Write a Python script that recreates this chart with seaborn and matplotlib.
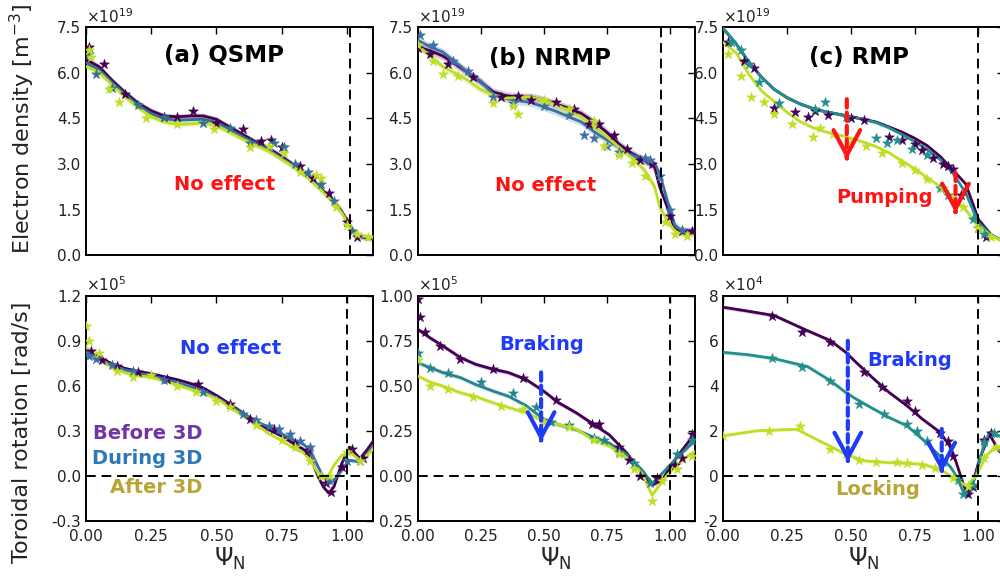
import numpy as np
import matplotlib
matplotlib.use("Agg")
import matplotlib.pyplot as plt
import seaborn as sns
from matplotlib.ticker import FixedLocator, FixedFormatter

# ---------------- data ----------------
# Electron density (x1e19 m^-3)
ne_a_psi = [0, 0.05, 0.1, 0.15, 0.2, 0.25, 0.3, 0.35, 0.4, 0.45, 0.5, 0.55, 0.6, 0.65, 0.7, 0.75, 0.8, 0.85, 0.9, 0.95, 0.98, 1.0, 1.02, 1.05, 1.1]
ne_a_before = [6.43, 6.2, 5.75, 5.35, 5.0, 4.75, 4.58, 4.55, 4.58, 4.58, 4.47, 4.22, 3.98, 3.73, 3.52, 3.25, 2.95, 2.6, 2.2, 1.78, 1.45, 1.15, 0.85, 0.62, 0.55]
ne_a_during = [6.32, 6.1, 5.68, 5.28, 4.93, 4.66, 4.49, 4.44, 4.46, 4.47, 4.37, 4.14, 3.9, 3.68, 3.47, 3.2, 2.92, 2.58, 2.18, 1.75, 1.42, 1.12, 0.85, 0.64, 0.57]
ne_a_after = [6.2, 6.02, 5.6, 5.2, 4.85, 4.55, 4.38, 4.3, 4.32, 4.35, 4.25, 4.05, 3.82, 3.62, 3.42, 3.15, 2.88, 2.55, 2.15, 1.72, 1.4, 1.1, 0.86, 0.65, 0.6]
ne_a_pts_before_psi = [0.01, 0.07, 0.15, 0.3, 0.35, 0.41, 0.5, 0.6, 0.67, 0.71, 0.75, 0.82, 0.87, 0.93, 1.0, 1.04]
ne_a_pts_before = [6.85, 6.3, 5.3, 4.55, 4.55, 4.75, 4.35, 4.15, 3.75, 3.8, 3.55, 2.95, 2.55, 2.05, 1.1, 0.6]
ne_a_pts_during_psi = [0.01, 0.04, 0.1, 0.2, 0.3, 0.45, 0.55, 0.63, 0.72, 0.76, 0.8, 0.85, 0.9, 0.95, 1.02]
ne_a_pts_during = [6.6, 5.95, 5.5, 4.95, 4.55, 4.35, 4.2, 3.7, 3.7, 3.55, 3.0, 2.75, 2.35, 1.8, 0.8]
ne_a_pts_after_psi = [0.01, 0.02, 0.09, 0.125, 0.23, 0.35, 0.49, 0.63, 0.7, 0.76, 0.82, 0.88, 0.9, 0.96, 1.0, 1.04, 1.08]
ne_a_pts_after = [6.75, 6.5, 5.45, 5.05, 4.5, 4.3, 4.15, 3.55, 3.6, 3.35, 2.75, 2.65, 2.55, 1.6, 1.0, 0.7, 0.6]

ne_b_psi = [0, 0.05, 0.1, 0.15, 0.2, 0.25, 0.3, 0.35, 0.4, 0.45, 0.5, 0.55, 0.6, 0.65, 0.7, 0.75, 0.8, 0.85, 0.9, 0.94, 0.96, 0.99, 1.02, 1.05, 1.1]
ne_b_before = [6.85, 6.72, 6.55, 6.28, 6.0, 5.7, 5.37, 5.25, 5.2, 5.2, 5.1, 4.97, 4.83, 4.66, 4.38, 4.05, 3.65, 3.35, 3.12, 2.9, 2.25, 1.59, 0.85, 0.8, 0.8]
ne_b_during = [7.07, 6.85, 6.68, 6.35, 6.0, 5.72, 5.3, 5.15, 5.08, 5.02, 4.88, 4.73, 4.55, 4.38, 4.06, 3.8, 3.55, 3.3, 3.12, 3.02, 2.69, 1.81, 1.0, 0.78, 0.78]
ne_b_after = [6.9, 6.55, 6.2, 5.98, 5.75, 5.45, 5.26, 5.17, 5.18, 5.2, 5.1, 4.95, 4.75, 4.55, 4.22, 3.9, 3.55, 3.2, 2.8, 2.25, 1.6, 1.15, 0.8, 0.7, 0.72]
ne_b_pts_before_psi = [0.0, 0.05, 0.12, 0.22, 0.33, 0.4, 0.45, 0.55, 0.62, 0.68, 0.72, 0.78, 0.83, 0.88, 0.93, 1.0, 1.05, 1.09]
ne_b_pts_before = [6.8, 6.6, 6.3, 5.85, 5.2, 5.25, 5.1, 5.05, 4.8, 4.3, 4.3, 3.95, 3.5, 3.15, 3.0, 1.3, 0.8, 0.8]
ne_b_pts_during_psi = [0.01, 0.06, 0.14, 0.2, 0.3, 0.38, 0.5, 0.6, 0.66, 0.7, 0.75, 0.8, 0.9, 0.92, 0.96, 1.0, 1.05]
ne_b_pts_during = [7.25, 6.9, 6.4, 6.05, 5.2, 5.0, 4.9, 4.6, 3.95, 3.85, 3.6, 3.4, 3.2, 3.15, 2.6, 1.5, 0.85]
ne_b_pts_after_psi = [0.0, 0.06, 0.1, 0.16, 0.3, 0.38, 0.4, 0.5, 0.6, 0.7, 0.74, 0.8, 0.85, 0.9, 0.98, 1.02, 1.07]
ne_b_pts_after = [6.9, 6.4, 5.95, 5.9, 5.0, 4.9, 4.65, 5.1, 4.8, 4.4, 3.6, 3.3, 3.05, 2.6, 1.1, 0.7, 0.65]

ne_c_psi = [0, 0.05, 0.1, 0.15, 0.2, 0.25, 0.3, 0.35, 0.4, 0.45, 0.5, 0.55, 0.6, 0.65, 0.7, 0.75, 0.8, 0.85, 0.9, 0.95, 1.0, 1.05, 1.1]
ne_c_before = [7.45, 6.95, 6.35, 5.85, 5.45, 5.18, 4.98, 4.83, 4.72, 4.64, 4.56, 4.47, 4.38, 4.22, 4.05, 3.85, 3.6, 3.25, 2.8, 2.35, 1.18, 0.68, 0.45]
ne_c_during = [7.45, 6.95, 6.35, 5.85, 5.45, 5.18, 4.98, 4.83, 4.72, 4.64, 4.56, 4.47, 4.36, 4.19, 3.97, 3.74, 3.47, 3.15, 2.7, 2.05, 1.07, 0.68, 0.45]
ne_c_after = [7.0, 6.65, 5.95, 5.4, 5.05, 4.7, 4.4, 4.2, 4.06, 3.97, 3.85, 3.72, 3.57, 3.37, 3.1, 2.85, 2.55, 2.26, 1.88, 1.5, 0.94, 0.65, 0.45]
ne_c_pts_before_psi = [0.02, 0.08, 0.12, 0.2, 0.28, 0.33, 0.36, 0.41, 0.5, 0.55, 0.65, 0.7, 0.75, 0.78, 0.82, 0.86, 0.88, 0.9, 0.93, 1.0, 1.03]
ne_c_pts_before = [7.0, 6.4, 6.15, 4.85, 4.7, 4.55, 4.75, 4.6, 4.5, 4.45, 3.9, 3.8, 3.65, 3.45, 3.2, 3.0, 2.95, 2.85, 2.0, 0.9, 0.6]
ne_c_pts_during_psi = [0.03, 0.07, 0.1, 0.14, 0.22, 0.36, 0.4, 0.48, 0.6, 0.64, 0.68, 0.74, 0.8, 0.85, 0.88, 0.98, 1.02]
ne_c_pts_during = [7.0, 6.75, 6.3, 5.7, 5.0, 4.8, 5.05, 4.55, 3.85, 3.7, 3.8, 3.5, 3.3, 2.2, 2.0, 1.2, 0.7]
ne_c_pts_after_psi = [0.02, 0.07, 0.11, 0.16, 0.2, 0.27, 0.35, 0.38, 0.43, 0.5, 0.56, 0.62, 0.7, 0.75, 0.8, 0.86, 0.9, 0.94, 1.0, 1.05]
ne_c_pts_after = [6.6, 5.9, 5.2, 5.05, 4.65, 4.3, 3.9, 4.2, 4.0, 3.7, 3.6, 3.35, 3.05, 2.8, 2.5, 2.2, 1.9, 1.6, 0.9, 0.6]

# Toroidal rotation
rot_a_psi = [0, 0.05, 0.1, 0.15, 0.2, 0.25, 0.3, 0.35, 0.4, 0.45, 0.5, 0.55, 0.6, 0.65, 0.7, 0.75, 0.8, 0.83, 0.86, 0.89, 0.91, 0.93, 0.95, 0.98, 1.01, 1.05, 1.08, 1.1]
rot_a_before = [0.835, 0.79, 0.745, 0.715, 0.695, 0.68, 0.66, 0.64, 0.615, 0.585, 0.535, 0.48, 0.42, 0.36, 0.308, 0.265, 0.21, 0.181, 0.126, -0.007, -0.074, -0.114, -0.074, 0.082, 0.192, 0.115, 0.18, 0.23]
rot_a_during = [0.823, 0.78, 0.735, 0.705, 0.685, 0.665, 0.645, 0.62, 0.595, 0.565, 0.52, 0.47, 0.415, 0.365, 0.325, 0.28, 0.235, 0.215, 0.17, 0.059, -0.007, -0.05, -0.03, 0.037, 0.104, 0.093, 0.15, 0.2]
rot_a_after = [0.857, 0.775, 0.72, 0.685, 0.665, 0.657, 0.63, 0.605, 0.575, 0.55, 0.513, 0.46, 0.4, 0.345, 0.281, 0.235, 0.18, 0.159, 0.104, 0.015, -0.018, 0.004, 0.07, 0.137, 0.159, 0.104, 0.14, 0.18]
rot_a_pts_before_psi = [0.02, 0.06, 0.12, 0.2, 0.31, 0.43, 0.55, 0.63, 0.72, 0.8, 0.85, 0.92, 0.94, 0.98, 1.02, 1.06]
rot_a_pts_before = [0.83, 0.77, 0.73, 0.69, 0.645, 0.61, 0.48, 0.38, 0.31, 0.22, 0.17, -0.05, -0.11, 0.06, 0.18, 0.12]
rot_a_pts_during_psi = [0.01, 0.04, 0.1, 0.18, 0.3, 0.45, 0.6, 0.65, 0.7, 0.74, 0.78, 0.82, 0.86, 0.93, 1.0, 1.05]
rot_a_pts_during = [0.8, 0.78, 0.74, 0.7, 0.64, 0.56, 0.41, 0.37, 0.33, 0.31, 0.28, 0.23, 0.19, -0.03, 0.1, 0.1]
rot_a_pts_after_psi = [0.0, 0.01, 0.05, 0.12, 0.18, 0.25, 0.35, 0.42, 0.5, 0.55, 0.65, 0.75, 0.8, 0.86, 0.9, 0.93, 1.0, 1.05]
rot_a_pts_after = [1.0, 0.9, 0.82, 0.7, 0.66, 0.67, 0.6, 0.56, 0.5, 0.46, 0.34, 0.24, 0.19, 0.1, 0.0, 0.0, 0.16, 0.1]

rot_b_psi = [0, 0.05, 0.1, 0.17, 0.23, 0.3, 0.36, 0.43, 0.5, 0.56, 0.63, 0.69, 0.76, 0.83, 0.89, 0.93, 0.97, 1.02, 1.08, 1.1]
rot_b_before = [0.814, 0.765, 0.721, 0.656, 0.619, 0.591, 0.573, 0.535, 0.47, 0.405, 0.349, 0.293, 0.228, 0.126, 0.014, -0.05, -0.023, 0.089, 0.2, 0.23]
rot_b_during = [0.628, 0.6, 0.573, 0.545, 0.507, 0.47, 0.442, 0.39, 0.315, 0.284, 0.256, 0.219, 0.182, 0.117, 0.033, -0.041, 0.014, 0.089, 0.17, 0.19]
rot_b_after = [0.554, 0.52, 0.498, 0.461, 0.44, 0.405, 0.38, 0.35, 0.305, 0.285, 0.26, 0.205, 0.165, 0.1, 0.014, -0.107, -0.03, 0.051, 0.12, 0.135]
rot_b_pts_before_psi = [0.0, 0.01, 0.03, 0.09, 0.17, 0.3, 0.42, 0.55, 0.69, 0.72, 0.8, 0.84, 0.88, 0.95, 1.02, 1.05, 1.09]
rot_b_pts_before = [0.98, 0.88, 0.8, 0.72, 0.65, 0.59, 0.54, 0.42, 0.29, 0.29, 0.16, 0.09, 0.0, -0.01, 0.06, 0.1, 0.23]
rot_b_pts_during_psi = [0.0, 0.05, 0.12, 0.25, 0.38, 0.47, 0.53, 0.6, 0.7, 0.74, 0.8, 0.86, 0.92, 1.03, 1.09]
rot_b_pts_during = [0.68, 0.6, 0.57, 0.52, 0.46, 0.38, 0.3, 0.28, 0.21, 0.2, 0.13, 0.07, -0.04, 0.12, 0.2]
rot_b_pts_after_psi = [0.0, 0.05, 0.12, 0.22, 0.33, 0.42, 0.5, 0.6, 0.7, 0.8, 0.86, 0.93, 0.97, 1.03, 1.09]
rot_b_pts_after = [0.64, 0.5, 0.48, 0.44, 0.39, 0.37, 0.3, 0.27, 0.2, 0.12, 0.04, -0.14, -0.03, 0.04, 0.11]

rot_c_before_psi = [0, 0.1, 0.2, 0.33, 0.42, 0.48, 0.52, 0.59, 0.65, 0.72, 0.78, 0.85, 0.887, 0.913, 0.939, 0.959, 0.978, 1.004, 1.043, 1.08, 1.1]
rot_c_before = [7.48, 7.3, 7.11, 6.44, 6.0, 5.48, 5.04, 4.3, 3.7, 3.11, 2.52, 1.93, 1.33, 0.59, -0.3, -0.89, -0.3, 0.74, 1.85, 1.1, 1.0]
rot_c_during_psi = [0, 0.1, 0.2, 0.33, 0.42, 0.48, 0.52, 0.59, 0.65, 0.72, 0.78, 0.848, 0.89, 0.913, 0.939, 0.965, 0.991, 1.017, 1.043, 1.08, 1.1]
rot_c_during = [5.48, 5.37, 5.2, 4.85, 4.22, 3.7, 3.41, 2.96, 2.59, 2.22, 1.63, 0.89, 0.4, 0.0, -0.67, -0.74, 0.07, 1.19, 1.93, 1.78, 1.7]
rot_c_after_psi = [0, 0.13, 0.196, 0.287, 0.39, 0.48, 0.55, 0.65, 0.78, 0.848, 0.913, 0.952, 0.991, 1.03, 1.07, 1.1]
rot_c_after = [1.78, 2.0, 2.03, 2.07, 1.48, 0.96, 0.67, 0.59, 0.52, 0.3, -0.15, -0.44, 0.0, 0.89, 1.33, 1.26]
rot_c_pts_before_psi = [0.19, 0.31, 0.42, 0.55, 0.62, 0.72, 0.75, 0.85, 0.88, 0.9, 0.96, 0.98, 1.02, 1.05]
rot_c_pts_before = [7.1, 6.4, 5.95, 4.6, 3.95, 3.3, 2.9, 1.9, 1.55, 0.9, -0.8, -0.5, 1.6, 1.9]
rot_c_pts_during_psi = [0.19, 0.31, 0.42, 0.53, 0.63, 0.72, 0.76, 0.8, 0.86, 0.92, 0.94, 0.98, 1.02, 1.06]
rot_c_pts_during = [5.25, 4.85, 4.2, 3.2, 2.75, 2.3, 2.0, 1.55, 0.6, -0.2, -0.8, -0.4, 1.5, 1.9]
rot_c_pts_after_psi = [0.0, 0.18, 0.3, 0.42, 0.48, 0.53, 0.6, 0.68, 0.72, 0.78, 0.83, 0.9, 0.96, 1.02, 1.07]
rot_c_pts_after = [1.75, 2.0, 2.2, 1.2, 0.95, 0.7, 0.6, 0.6, 0.55, 0.5, 0.35, -0.1, -0.45, 0.8, 1.3]

# axis ticks / labels
x_ticks = [0.0, 0.25, 0.5, 0.75, 1.0]
x_ticklabels = ["0.00", "0.25", "0.50", "0.75", "1.00"]
ne_ticks = [0.0, 1.5, 3.0, 4.5, 6.0, 7.5]
ne_ticklabels = ["0.0", "1.5", "3.0", "4.5", "6.0", "7.5"]
rot_a_ticks = [-0.3, 0.0, 0.3, 0.6, 0.9, 1.2]
rot_a_ticklabels = ["-0.3", "0.0", "0.3", "0.6", "0.9", "1.2"]
rot_b_ticks = [-0.25, 0.0, 0.25, 0.5, 0.75, 1.0]
rot_b_ticklabels = ["0.25", "0.00", "0.25", "0.50", "0.75", "1.00"]
rot_c_ticks = [-2, 0, 2, 4, 6, 8]
rot_c_ticklabels = ["-2", "0", "2", "4", "6", "8"]

# ---------------- style ----------------
sns.set_theme(style="white")
plt.rcParams.update({
    "font.family": ["DejaVu Sans"],
    "axes.unicode_minus": False,
    "axes.edgecolor": "black",
    "axes.linewidth": 1.4,
    "xtick.direction": "in",
    "ytick.direction": "in",
    "xtick.top": True,
    "ytick.right": True,
    "xtick.major.size": 5,
    "ytick.major.size": 5,
    "xtick.major.width": 1.0,
    "ytick.major.width": 1.0,
    "xtick.major.pad": 6,
    "xtick.labelsize": 11,
    "ytick.labelsize": 11,
    "xtick.color": "black",
    "ytick.color": "black",
    "xtick.labelcolor": "#222222",
    "ytick.labelcolor": "#222222",
})

C_BEFORE = "#440154"
C_AFTER = "#bfdf25"
C_RED = "#ff1414"
C_BLUE = "#1e3cf5"
C_OLIVE = "#b8a535"

fig = plt.figure(figsize=(10, 5.79), dpi=100)

top_b, top_h = 1 - 255.5 / 579, 228.5 / 579
bot_b, bot_h = 1 - 521 / 579, 225.5 / 579
cols = [(0.086, 0.287), (0.4175, 0.2775), (0.7233, 0.2807)]

axes_top = [fig.add_axes([l, top_b, w, top_h]) for l, w in cols]
axes_bot = [fig.add_axes([l, bot_b, w, bot_h]) for l, w in cols]


def draw(ax, psi, curve, ppsi, pval, color, band):
    c = np.asarray(curve, dtype=float)
    ax.fill_between(psi, c - band, c + band, color=color, alpha=0.22, lw=0, zorder=2)
    sns.lineplot(x=psi, y=curve, ax=ax, color=color, lw=2.0, zorder=3, sort=False)
    sns.scatterplot(x=ppsi, y=pval, ax=ax, marker="*", s=55, color=color,
                    edgecolor=color, linewidth=0.4, zorder=4, legend=False)


def arrow(ax, x, y0, y1, color, eps):
    ax.annotate("", xy=(x, y1 + eps), xytext=(x, y0),
                arrowprops=dict(arrowstyle="-", ls=(0, (2.0, 1.2)), lw=3, color=color,
                                shrinkA=0, shrinkB=0), zorder=6)
    ax.annotate("", xy=(x, y1), xytext=(x, y1 + eps),
                arrowprops=dict(arrowstyle="->,head_length=1.5,head_width=0.8", lw=3,
                                color=color, shrinkA=0, shrinkB=0), zorder=6)


# top row: density
ne_sets = [
    (ne_a_psi, ne_a_before, ne_a_during, ne_a_after,
     (ne_a_pts_before_psi, ne_a_pts_before), (ne_a_pts_during_psi, ne_a_pts_during),
     (ne_a_pts_after_psi, ne_a_pts_after), "#33718f", 0.09, 1.01),
    (ne_b_psi, ne_b_before, ne_b_during, ne_b_after,
     (ne_b_pts_before_psi, ne_b_pts_before), (ne_b_pts_during_psi, ne_b_pts_during),
     (ne_b_pts_after_psi, ne_b_pts_after), "#3d6fa3", 0.13, 0.967),
    (ne_c_psi, ne_c_before, ne_c_during, ne_c_after,
     (ne_c_pts_before_psi, ne_c_pts_before), (ne_c_pts_during_psi, ne_c_pts_during),
     (ne_c_pts_after_psi, ne_c_pts_after), "#21908d", 0.05, 1.0),
]
for ax, (psi, bf, du, af, pb, pd_, pa, cdur, band, sep) in zip(axes_top, ne_sets):
    draw(ax, psi, bf, pb[0], pb[1], C_BEFORE, band)
    draw(ax, psi, du, pd_[0], pd_[1], cdur, band)
    draw(ax, psi, af, pa[0], pa[1], C_AFTER, band)
    ax.axvline(sep, color="black", ls=(0, (5, 3)), lw=1.4, zorder=5)
    ax.set_xlim(0, 1.1)
    ax.set_ylim(0, 7.5)
    ax.xaxis.set_major_locator(FixedLocator(x_ticks))
    ax.set_xticklabels([])
    ax.yaxis.set_major_locator(FixedLocator(ne_ticks))
    ax.yaxis.set_major_formatter(FixedFormatter(ne_ticklabels))
    ax.set_xlabel("")
    ax.set_ylabel("")
    ax.text(0.0, 1.005, r"$\times10^{19}$", transform=ax.transAxes, ha="left", va="bottom",
            fontsize=11, color="#222222")

# bottom row: rotation
rot_sets = [
    ((rot_a_psi, rot_a_before), (rot_a_psi, rot_a_during), (rot_a_psi, rot_a_after),
     (rot_a_pts_before_psi, rot_a_pts_before), (rot_a_pts_during_psi, rot_a_pts_during),
     (rot_a_pts_after_psi, rot_a_pts_after), "#3a6ea6", 0.012,
     (-0.3, 1.2), rot_a_ticks, rot_a_ticklabels, r"$\times10^{5}$"),
    ((rot_b_psi, rot_b_before), (rot_b_psi, rot_b_during), (rot_b_psi, rot_b_after),
     (rot_b_pts_before_psi, rot_b_pts_before), (rot_b_pts_during_psi, rot_b_pts_during),
     (rot_b_pts_after_psi, rot_b_pts_after), "#25848e", 0.012,
     (-0.25, 1.0), rot_b_ticks, rot_b_ticklabels, r"$\times10^{5}$"),
    ((rot_c_before_psi, rot_c_before), (rot_c_during_psi, rot_c_during), (rot_c_after_psi, rot_c_after),
     (rot_c_pts_before_psi, rot_c_pts_before), (rot_c_pts_during_psi, rot_c_pts_during),
     (rot_c_pts_after_psi, rot_c_pts_after), "#21908d", 0.08,
     (-2, 8), rot_c_ticks, rot_c_ticklabels, r"$\times10^{4}$"),
]
for ax, (cb, cd, ca, pb, pd_, pa, cdur, band, ylim, yt, ytl, off) in zip(axes_bot, rot_sets):
    draw(ax, cb[0], cb[1], pb[0], pb[1], C_BEFORE, band)
    draw(ax, cd[0], cd[1], pd_[0], pd_[1], cdur, band)
    draw(ax, ca[0], ca[1], pa[0], pa[1], C_AFTER, band)
    ax.axvline(1.0, color="black", ls=(0, (5, 3)), lw=1.4, zorder=5)
    ax.axhline(0.0, color="black", ls=(0, (5, 3)), lw=1.4, zorder=5)
    ax.set_xlim(0, 1.1)
    ax.set_ylim(*ylim)
    ax.xaxis.set_major_locator(FixedLocator(x_ticks))
    ax.xaxis.set_major_formatter(FixedFormatter(x_ticklabels))
    ax.yaxis.set_major_locator(FixedLocator(yt))
    ax.yaxis.set_major_formatter(FixedFormatter(ytl))
    ax.set_ylabel("")
    ax.set_xlabel(r"$\Psi_{\rm N}$", fontsize=17, labelpad=1)
    ax.text(0.0, 1.005, off, transform=ax.transAxes, ha="left", va="bottom",
            fontsize=11, color="#222222")

# annotations
bold = dict(fontweight="bold", ha="center", va="center")
axes_top[0].text(0.53, 6.55, "(a) QSMP", fontsize=16.5, color="black", **bold)
axes_top[0].text(0.53, 2.33, "No effect", fontsize=14, color=C_RED, **bold)
axes_top[1].text(0.526, 6.46, "(b) NRMP", fontsize=16.5, color="black", **bold)
axes_top[1].text(0.506, 2.3, "No effect", fontsize=14, color=C_RED, **bold)
axes_top[2].text(0.53, 6.5, "(c) RMP", fontsize=16.5, color="black", **bold)
axes_top[2].text(0.63, 1.92, "Pumping", fontsize=14, color=C_RED, **bold)
arrow(axes_top[2], 0.484, 5.13, 3.15, C_RED, 0.05)
arrow(axes_top[2], 0.91, 2.72, 1.39, C_RED, 0.05)

axes_bot[0].text(0.556, 0.848, "No effect", fontsize=14, color=C_BLUE, **bold)
axes_bot[0].text(0.447, 0.283, "Before 3D", fontsize=14, color="#7434a4", fontweight="bold", ha="right", va="center")
axes_bot[0].text(0.447, 0.117, "During 3D", fontsize=14, color="#2f78b8", fontweight="bold", ha="right", va="center")
axes_bot[0].text(0.447, -0.076, "After 3D", fontsize=14, color=C_OLIVE, fontweight="bold", ha="right", va="center")

axes_bot[1].text(0.494, 0.73, "Braking", fontsize=14, color=C_BLUE, **bold)
arrow(axes_bot[1], 0.49, 0.574, 0.19, C_BLUE, 0.01)

axes_bot[2].text(0.73, 5.1, "Braking", fontsize=14, color=C_BLUE, **bold)
axes_bot[2].text(0.603, -0.6, "Locking", fontsize=14, color=C_OLIVE, **bold)
arrow(axes_bot[2], 0.488, 5.99, 0.61, C_BLUE, 0.08)
arrow(axes_bot[2], 0.856, 2.08, 0.17, C_BLUE, 0.08)

fig.text(0.022, 1 - 129 / 579, r"Electron density [m$^{-3}$]", rotation=90,
         ha="center", va="center", fontsize=16, color="#222222")
fig.text(0.022, 1 - 432 / 579, "Toroidal rotation [rad/s]", rotation=90,
         ha="center", va="center", fontsize=16, color="#222222")

fig.savefig("out.png", dpi=100)
